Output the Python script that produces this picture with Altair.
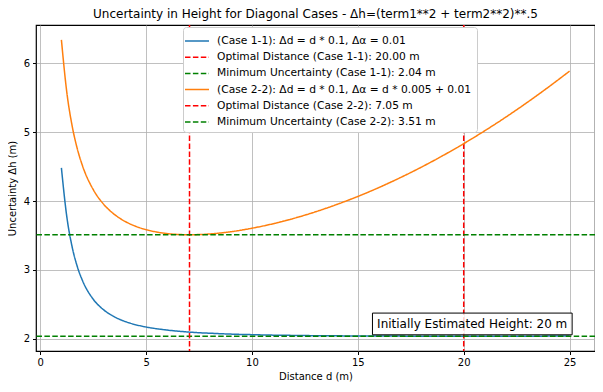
import altair as alt
import pandas as pd

# ---- data ----
d_vals = [1, 1.25, 1.5, 1.75, 2, 2.5, 3, 3.5, 4, 4.5, 5, 5.5, 6, 6.5, 7, 7.5, 8,
          9, 10, 11, 12, 13, 14, 15, 16, 17, 18, 19, 20, 21, 22, 23, 24, 25]
case11_h = [4.481, 3.784, 3.345, 3.050, 2.843, 2.577, 2.421, 2.321, 2.254, 2.207,
            2.173, 2.148, 2.128, 2.113, 2.100, 2.090, 2.083, 2.070, 2.062, 2.055,
            2.051, 2.047, 2.045, 2.043, 2.042, 2.041, 2.040, 2.040, 2.040, 2.040,
            2.040, 2.040, 2.041, 2.042]
case22_h = [6.339, 5.590, 5.101, 4.759, 4.508, 4.168, 3.952, 3.807, 3.706, 3.635,
            3.585, 3.551, 3.528, 3.516, 3.512, 3.514, 3.523, 3.555, 3.606, 3.671,
            3.751, 3.844, 3.950, 4.067, 4.197, 4.339, 4.492, 4.657, 4.833, 5.021,
            5.220, 5.431, 5.653, 5.885]

opt_dist = [20.00, 7.05]
min_unc = [2.04, 3.51]

series_labels = [
    "(Case 1-1): Δd = d * 0.1, Δα = 0.01",
    "Optimal Distance (Case 1-1): 20.00 m",
    "Minimum Uncertainty (Case 1-1): 2.04 m",
    "(Case 2-2): Δd = d * 0.1, Δα = d * 0.005 + 0.01",
    "Optimal Distance (Case 2-2): 7.05 m",
    "Minimum Uncertainty (Case 2-2): 3.51 m",
]
series_colors = ["#1f77b4", "#ff0000", "#008000", "#ff7f0e", "#ff0000", "#008000"]
DASH = [5.5, 2.4]
SOLID = [1, 0]
series_dash = [SOLID, DASH, DASH, SOLID, DASH, DASH]

annot_text = "Initially Estimated Height: 20 m"
annot_box = {"x1": 15.69, "x2": 25.12, "y1": 2.06, "y2": 2.375}
annot_pos = {"x": 20.40, "y": 2.218}

x_domain = [-0.2, 26.2]
y_domain = [1.825, 6.554]

# ---- tables ----
curve1 = pd.DataFrame({"d": d_vals, "h": case11_h, "series": series_labels[0]})
curve2 = pd.DataFrame({"d": d_vals, "h": case22_h, "series": series_labels[3]})
vline1 = pd.DataFrame({"d": [opt_dist[0]], "series": [series_labels[1]]})
hline1 = pd.DataFrame({"h": [min_unc[0]], "series": [series_labels[2]]})
vline2 = pd.DataFrame({"d": [opt_dist[1]], "series": [series_labels[4]]})
hline2 = pd.DataFrame({"h": [min_unc[1]], "series": [series_labels[5]]})
box_df = pd.DataFrame([annot_box])
txt_df = pd.DataFrame([{**annot_pos, "t": annot_text}])

FONT = "DejaVu Sans"

xscale = alt.Scale(domain=x_domain, nice=False, zero=False)
yscale = alt.Scale(domain=y_domain, nice=False, zero=False)

color = alt.Color(
    "series:N",
    scale=alt.Scale(domain=series_labels, range=series_colors),
    legend=alt.Legend(title=None),
)
dash = alt.StrokeDash(
    "series:N",
    scale=alt.Scale(domain=series_labels, range=series_dash),
    legend=alt.Legend(title=None),
)

xaxis = alt.Axis(values=[0, 5, 10, 15, 20, 25], title="Distance d (m)", format="d")
yaxis = alt.Axis(values=[2, 3, 4, 5, 6], title="Uncertainty Δh (m)", format="d")

X = lambda: alt.X("d:Q", scale=xscale, axis=xaxis)
Y = lambda: alt.Y("h:Q", scale=yscale, axis=yaxis)


def curve(df):
    return alt.Chart(df).mark_line(strokeWidth=1.5, interpolate="monotone", clip=True).encode(
        x=X(), y=Y(), color=color, strokeDash=dash
    )


def vrule(df):
    return alt.Chart(df).mark_rule(strokeWidth=1.5).encode(x=X(), color=color, strokeDash=dash)


def hrule(df):
    return alt.Chart(df).mark_rule(strokeWidth=1.5).encode(y=Y(), color=color, strokeDash=dash)


box = alt.Chart(box_df).mark_rect(
    fill="white", fillOpacity=0.8, stroke="black", strokeWidth=1
).encode(
    x=alt.X("x1:Q", scale=xscale, axis=xaxis), x2="x2:Q",
    y=alt.Y("y1:Q", scale=yscale, axis=yaxis), y2="y2:Q",
)
txt = alt.Chart(txt_df).mark_text(
    font=FONT, fontSize=12, color="black", align="center", baseline="middle"
).encode(
    x=alt.X("x:Q", scale=xscale, axis=xaxis),
    y=alt.Y("y:Q", scale=yscale, axis=yaxis),
    text="t:N",
)

chart = alt.layer(
    curve(curve1), vrule(vline1), hrule(hline1),
    curve(curve2), vrule(vline2), hrule(hline2),
    box, txt,
).properties(
    width=559,
    height=326,
    title=alt.Title(
        "Uncertainty in Height for Diagonal Cases - Δh=(term1**2 + term2**2)**.5",
        font=FONT, fontSize=12, fontWeight="normal", color="black", offset=3,
    ),
    autosize=alt.AutoSizeParams(type="none"),
    padding={"left": 28, "top": 17, "right": 0, "bottom": 33},
).configure_view(
    stroke="black", strokeWidth=1.2
).configure_axis(
    domain=False,
    grid=True,
    gridColor="#b0b0b0",
    gridWidth=0.8,
    tickColor="black",
    tickSize=3.5,
    tickWidth=1,
    labelFont=FONT,
    labelFontSize=10,
    labelColor="black",
    titleFont=FONT,
    titleFontSize=10,
    titleFontWeight="normal",
    titleColor="black",
).configure_axisX(
    labelPadding=3, titlePadding=4
).configure_axisY(
    labelPadding=3, titlePadding=6
).configure_legend(
    orient="none",
    legendX=147,
    legendY=2,
    padding=5,
    fillColor="white",
    strokeColor="#cccccc",
    cornerRadius=3,
    symbolType="M-1.5,0H1.5",
    symbolSize=256,
    symbolStrokeWidth=1.5,
    labelFont=FONT,
    labelFontSize=10.7,
    labelColor="black",
    labelOffset=11,
    rowPadding=2.2,
    labelLimit=400,
)

chart.save("out.html", embed_options={"renderer": "svg", "actions": False})
